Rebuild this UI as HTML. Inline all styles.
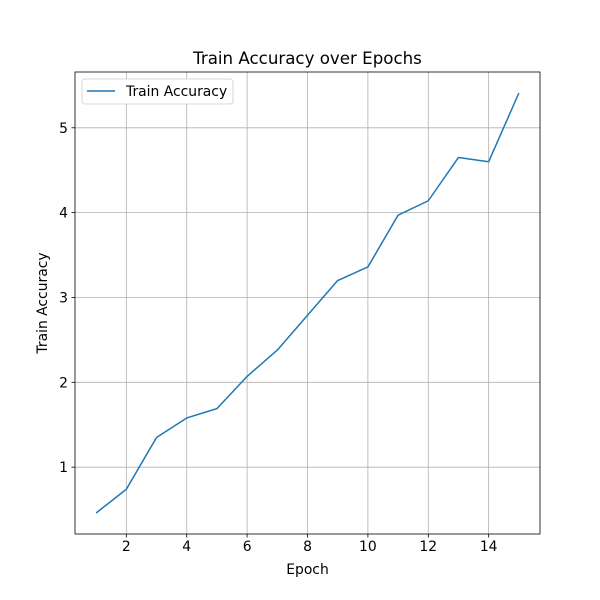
<!DOCTYPE html>
<html><head><meta charset="utf-8"><style>
body{margin:0;background:#fff;}
svg{display:block;font-family:"DejaVu Sans","Liberation Sans",sans-serif;}
</style></head><body>
<svg id="chart" width="600" height="600" viewBox="0 0 600 600">
<rect x="0" y="0" width="600" height="600" fill="#fff"/>
<g id="grid"></g>
<g id="ticks"></g>
<polyline id="line" fill="none" stroke="#1f77b4" stroke-width="1.5" stroke-linejoin="round"/>
<rect x="75" y="72" width="465" height="462" fill="none" stroke="#000" stroke-width="0.8"/>
<text x="307.5" y="64" text-anchor="middle" font-size="16.67">Train Accuracy over Epochs</text>
<text x="307.5" y="574" text-anchor="middle" font-size="13.9">Epoch</text>
<text transform="translate(47,303) rotate(-90)" text-anchor="middle" font-size="13.9">Train Accuracy</text>
<g>
<rect x="82" y="79" width="151" height="25" rx="3" fill="#fff" stroke="#ccc" stroke-width="0.8"/>
<line x1="87" y1="91" x2="115" y2="91" stroke="#1f77b4" stroke-width="1.5"/>
<text x="126" y="96" font-size="13.9">Train Accuracy</text>
</g>
</svg>
<script>
const epochs=[1,2,3,4,5,6,7,8,9,10,11,12,13,14,15];
const accuracy=[0.46,0.74,1.35,1.58,1.69,2.07,2.38,2.79,3.2,3.36,3.97,4.14,4.65,4.6,5.41];
const xTicks=[2,4,6,8,10,12,14];
const yTicks=[1,2,3,4,5];
const NS="http://www.w3.org/2000/svg";
const L=75,R=540,T=72,B=534;
const xmin=0.3,xmax=15.7;
const ymin=Math.min(...accuracy),ymax=Math.max(...accuracy),pad=(ymax-ymin)*0.05;
const y0=ymin-pad,y1=ymax+pad;
const xs=v=>L+(v-xmin)/(xmax-xmin)*(R-L);
const ys=v=>B-(v-y0)/(y1-y0)*(B-T);
const grid=document.getElementById('grid'),ticks=document.getElementById('ticks');
function mk(tag,attrs,parent){const e=document.createElementNS(NS,tag);for(const k in attrs)e.setAttribute(k,attrs[k]);parent.appendChild(e);return e;}
xTicks.forEach(t=>{const x=xs(t);
const g=mk('line',{x1:x,x2:x,y1:T,y2:B,stroke:'#b0b0b0','stroke-width':0.8},grid);


const tk=mk('line',{x1:x,x2:x,y1:B,y2:B+3.5,stroke:'#000','stroke-width':0.8},ticks);


const tx=mk('text',{x:x,y:B+17,'text-anchor':'middle','font-size':13.9},ticks);tx.textContent=t;

});
yTicks.forEach(t=>{const y=ys(t);
const g=mk('line',{x1:L,x2:R,y1:y,y2:y,stroke:'#b0b0b0','stroke-width':0.8},grid);


const tk=mk('line',{x1:L-3.5,x2:L,y1:y,y2:y,stroke:'#000','stroke-width':0.8},ticks);


const tx=mk('text',{x:L-7,y:y+5,'text-anchor':'end','font-size':13.9},ticks);tx.textContent=t;

});
document.getElementById('line').setAttribute('points',epochs.map((e,i)=>xs(e)+','+ys(accuracy[i])).join(' '));
</script>
</body></html>
